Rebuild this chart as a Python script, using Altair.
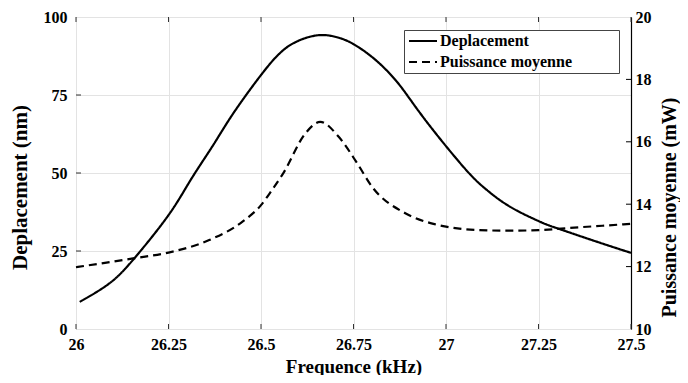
import altair as alt
import pandas as pd

# ---- data ----
freq_dep = [26.01, 26.09, 26.158, 26.25, 26.31, 26.37, 26.425, 26.5, 26.551, 26.596,
            26.659, 26.714, 26.75, 26.804, 26.867, 26.925, 27.0, 27.065, 27.11, 27.173,
            27.25, 27.30, 27.407, 27.5]
deplacement = [8.7, 14.6, 22.7, 36.5, 47.8, 58.8, 69.1, 81.4, 88.4, 92.1,
               94.2, 93.2, 91.3, 86.8, 79.3, 70.0, 58.6, 49.6, 44.6, 39.2,
               34.6, 32.3, 28.0, 24.4]

freq_pui = [26.0, 26.158, 26.25, 26.36, 26.45, 26.5, 26.53, 26.56, 26.62, 26.66,
            26.71, 26.76, 26.80, 26.89, 26.966, 27.0, 27.09, 27.18, 27.25, 27.36, 27.5]
puissance = [11.98, 12.27, 12.45, 12.85, 13.44, 13.97, 14.46, 14.99, 16.27, 16.64,
             16.16, 15.31, 14.56, 13.71, 13.37, 13.28, 13.17, 13.15, 13.17, 13.26, 13.37]

x_ticks = [26, 26.25, 26.5, 26.75, 27, 27.25, 27.5]
left_ticks = [0, 25, 50, 75, 100]
right_ticks = [10, 12, 14, 16, 18, 20]
series_names = ["Deplacement", "Puissance moyenne"]

W, H = 555, 312
FONT = "Liberation Serif"

df_dep = pd.DataFrame({"f": freq_dep, "v": deplacement, "series": series_names[0]})
df_pui = pd.DataFrame({"f": freq_pui, "v": puissance, "series": series_names[1]})
df_xt = pd.DataFrame({"f": x_ticks})
df_lt = pd.DataFrame({"v": left_ticks[1:-1]})
df_rt = pd.DataFrame({"v": right_ticks[1:-1]})

xscale = alt.Scale(domain=[26, 27.5], nice=False, zero=False)
lscale = alt.Scale(domain=[0, 100], nice=False, zero=False)
rscale = alt.Scale(domain=[10, 20], nice=False, zero=False)

pad = "\u00a0" * 11 + "\u200b"

dash = alt.StrokeDash(
    "series:N",
    scale=alt.Scale(domain=series_names, range=[[1, 0], [8, 5]]),
    legend=alt.Legend(
        title=None, orient="none", legendX=328, legendY=13,
        symbolType="M-1.2,0H4.4", symbolSize=100, symbolStrokeWidth=2.2,
        symbolStrokeColor="black", symbolFillColor="transparent",
        labelFont=FONT, labelFontWeight="bold", labelFontSize=16, labelColor="black",
        labelOffset=17, rowPadding=5, padding=3, labelLimit=400,
        labelExpr="datum.label + '" + pad + "'",
        strokeColor="#444", fillColor="white",
    ),
)

xaxis = alt.Axis(values=x_ticks, format=".2~f", title="Frequence (kHz)",
                 grid=True, gridColor="#e3e3e3", ticks=False, tickSize=0, domain=False,
                 labelFlush=False, labelPadding=7, titlePadding=5, titleFontSize=19)
laxis = alt.Axis(values=left_ticks, title="Deplacement (nm)", grid=True,
                 gridColor="#e3e3e3", ticks=False, tickSize=0, domain=False,
                 labelFlush=False, labelPadding=9,
                 titleAngle=270, titleBaseline="middle", titleAlign="center",
                 titleX=-56, titleY=170, titleFontSize=21)
raxis = alt.Axis(values=right_ticks, orient="right", title="Puissance moyenne (mW)",
                 grid=False, ticks=False, tickSize=0, domain=True, domainColor="black",
                 domainWidth=1.2, labelFlush=False, labelPadding=4,
                 titleAngle=270, titleBaseline="middle", titleAlign="center",
                 titleX=38, titleY=190, titleFontSize=20)

line_dep = alt.Chart(df_dep).mark_line(interpolate="natural", color="black", strokeWidth=2.2).encode(
    x=alt.X("f:Q", scale=xscale, axis=xaxis),
    y=alt.Y("v:Q", scale=lscale, axis=laxis),
    strokeDash=dash,
)

xt_bottom = alt.Chart(df_xt).mark_rule(color="#333", strokeWidth=1).encode(
    x=alt.X("f:Q", scale=xscale, axis=xaxis), y=alt.value(H), y2=alt.value(H - 5))
xt_top = alt.Chart(df_xt).mark_rule(color="#333", strokeWidth=1).encode(
    x=alt.X("f:Q", scale=xscale, axis=xaxis), y=alt.value(0), y2=alt.value(5))
lt = alt.Chart(df_lt).mark_rule(color="#333", strokeWidth=1).encode(
    y=alt.Y("v:Q", scale=lscale, axis=laxis), x=alt.value(0), x2=alt.value(5))

line_pui = alt.Chart(df_pui).mark_line(interpolate="monotone", color="black", strokeWidth=2.2).encode(
    x=alt.X("f:Q", scale=xscale, axis=xaxis),
    y=alt.Y("v:Q", scale=rscale, axis=raxis),
    strokeDash=dash,
)
rt = alt.Chart(df_rt).mark_rule(color="black", strokeWidth=1).encode(
    y=alt.Y("v:Q", scale=rscale, axis=raxis), x=alt.value(W - 5), x2=alt.value(W))

left_layer = alt.layer(line_dep, xt_bottom, xt_top, lt)
right_layer = alt.layer(line_pui, rt)

chart = alt.layer(left_layer, right_layer).resolve_scale(y="independent").properties(
    width=W, height=H,
    autosize=alt.AutoSizeParams(type="none"),
    padding={"left": 68, "top": 9, "right": 49, "bottom": 46},
).configure_view(stroke="#555", strokeWidth=1).configure_axis(
    labelFont=FONT, labelFontWeight="bold", labelFontSize=16, labelColor="black",
    titleFont=FONT, titleFontWeight="bold", titleFontSize=18, titleColor="black",
)

chart.save("out.html", embed_options={"renderer": "svg", "actions": False})
